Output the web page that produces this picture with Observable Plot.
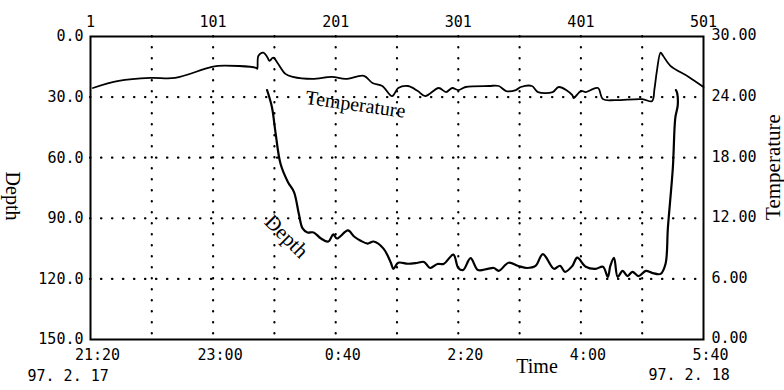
<!DOCTYPE html>
<html>
<head>
<meta charset="utf-8">
<script src="https://cdn.jsdelivr.net/npm/d3@7"></script>
<script src="https://cdn.jsdelivr.net/npm/@observablehq/plot@0.6"></script>
<style>
  html, body { margin: 0; padding: 0; background: #fff; }
  #chart { width: 784px; height: 390px; }
</style>
</head>
<body>
<div id="chart"></div>
<script>
// ---- data ----
// sample index (1..501, one per minute)
const tempIndex = [3, 24, 50, 70, 97, 105, 136, 137, 138, 142, 145, 147, 150, 154, 160, 166, 182, 198, 209, 224, 231, 239, 247, 252, 260, 268, 274, 285, 291, 296, 301, 307, 326, 334, 340, 348, 352, 361, 366, 378, 383, 394, 395, 401, 405, 409, 415, 419, 429, 451, 459, 461, 463, 466, 468, 474, 489, 501];
const tempValues = [24.9, 25.6, 25.9, 25.9, 26.9, 27.1, 26.9, 26.8, 28.1, 28.4, 28.0, 27.6, 27.9, 27.3, 26.3, 26.0, 25.8, 26.0, 25.8, 26.1, 25.4, 25.1, 24.1, 24.9, 25.1, 24.6, 24.1, 24.9, 24.5, 24.9, 24.7, 25.0, 25.1, 25.1, 24.6, 24.7, 25.0, 25.1, 24.5, 24.5, 25.0, 24.2, 23.9, 24.6, 24.5, 24.7, 24.9, 23.8, 23.7, 23.8, 23.6, 24.8, 26.6, 28.4, 28.1, 27.1, 26.0, 25.0];

const depthIndex = [145, 149, 152, 156, 162, 167, 171, 174, 178, 183, 189, 195, 199, 202, 211, 216, 221, 227, 232, 240, 246, 248, 252, 260, 268, 273, 278, 284, 289, 297, 301, 305, 311, 317, 325, 330, 334, 342, 350, 357, 364, 370, 379, 384, 388, 394, 398, 405, 413, 419, 423, 425, 428, 431, 435, 439, 443, 448, 454, 459, 466, 470, 472, 476, 478, 480, 479.5, 478.5];
const depthValues = [26.5, 35, 48, 63, 72, 77, 88, 95, 97, 97, 100, 101.5, 98, 100, 96, 99, 101, 102.5, 101.5, 105, 112, 115, 112, 112.5, 112, 111.6, 114.6, 112.6, 112.6, 108, 114.6, 115.6, 109.7, 115.6, 115, 114.6, 116, 112, 113.6, 114.6, 113.6, 107.7, 115, 113.5, 116.5, 113.6, 109.5, 114, 115, 114, 119, 113.6, 109.6, 119, 116, 118.6, 116.5, 118.6, 116, 117, 117.5, 112.6, 94.4, 65, 40.3, 34, 28, 26.5];

const topTicks = [1, 101, 201, 301, 401, 501];
const timeLabels = ["21:20", "23:00", "0:40", "2:20", "4:00", "5:40"];
const gridIndex = [51, 101, 151, 201, 251, 301, 351, 401, 451];
const depthTicks = [0, 30, 60, 90, 120, 150];
const depthGrid = [30, 60, 90, 120];
const tempTickLabels = ["30.00", "24.00", "18.00", "12.00", "6.00", "0.00"];
const dateStart = "97. 2. 17";
const dateEnd = "97. 2. 18";

// temperature shares the depth axis: 30 °C at depth 0, 0 °C at depth 150
const tempToDepth = t => (30 - t) * 5;

const tempData = tempIndex.map((i, k) => ({i, t: tempValues[k]}));
const depthData = depthIndex.map((i, k) => ({i, d: depthValues[k]}));

const serif = "Liberation Serif, Times New Roman, serif";
const mono = "DejaVu Sans Mono, monospace";
const centered = {textAnchor: "middle", lineAnchor: "middle"};

const chart = Plot.plot({
  width: 784,
  height: 390,
  marginLeft: 90,
  marginRight: 81,
  marginTop: 36,
  marginBottom: 51,
  x: {domain: [1, 501]},
  y: {domain: [0, 150], reverse: true},
  style: {fontFamily: mono, fontSize: "15px", color: "black", background: "white"},
  marks: [
    Plot.ruleX(gridIndex, {stroke: "black", strokeWidth: 2.2, strokeDasharray: "0.4,10.6", strokeLinecap: "round"}),
    Plot.ruleY(depthGrid, {stroke: "black", strokeWidth: 2.2, strokeDasharray: "0.4,10.6", strokeLinecap: "round"}),
    Plot.frame({stroke: "black", strokeWidth: 2}),
    Plot.axisX({anchor: "top", ticks: topTicks, tickSize: 0, tickPadding: 10, tickFormat: d => String(d), label: null}),
    Plot.axisX({anchor: "bottom", ticks: topTicks, tickSize: 0, tickPadding: 10, tickFormat: (d, k) => timeLabels[k], label: null, dx: 7}),
    Plot.axisY({anchor: "left", ticks: depthTicks, tickSize: 0, tickPadding: 7, tickFormat: d => d.toFixed(1), label: null}),
    Plot.axisY({anchor: "right", ticks: depthTicks, tickSize: 0, tickPadding: 8, tickFormat: (d, k) => tempTickLabels[k], label: null, dy: -1}),
    Plot.line(tempData, {x: "i", y: d => tempToDepth(d.t), stroke: "black", strokeWidth: 1.8, curve: "catmull-rom"}),
    Plot.line(depthData, {x: "i", y: "d", stroke: "black", strokeWidth: 2.2, curve: "catmull-rom"}),
    Plot.text(["Depth"], {text: d => d, frameAnchor: "left", dx: -78, dy: 8, rotate: 90, fontFamily: serif, fontSize: 20, ...centered}),
    Plot.text(["Temperature"], {text: d => d, frameAnchor: "right", dx: 70, dy: -21, rotate: -90, fontFamily: serif, fontSize: 21, ...centered}),
    Plot.text(["Time"], {text: d => d, frameAnchor: "bottom", dx: 140, dy: 27, fontFamily: serif, fontSize: 20, ...centered}),
    Plot.text([dateStart], {text: d => d, frameAnchor: "bottom-left", dx: -63, dy: 37, textAnchor: "start", lineAnchor: "middle", fontSize: 15}),
    Plot.text([dateEnd], {text: d => d, frameAnchor: "bottom-right", dx: -55, dy: 36, textAnchor: "start", lineAnchor: "middle", fontSize: 15}),
    Plot.text(["Temperature"], {text: d => d, frameAnchor: "top-left", dx: 265, dy: 68, rotate: 8, fontFamily: serif, fontSize: 20, ...centered}),
    Plot.text(["Depth"], {text: d => d, frameAnchor: "top-left", dx: 196, dy: 200, rotate: 45, fontFamily: serif, fontSize: 21, ...centered})
  ]
});
document.getElementById("chart").appendChild(chart);
</script>
</body>
</html>
